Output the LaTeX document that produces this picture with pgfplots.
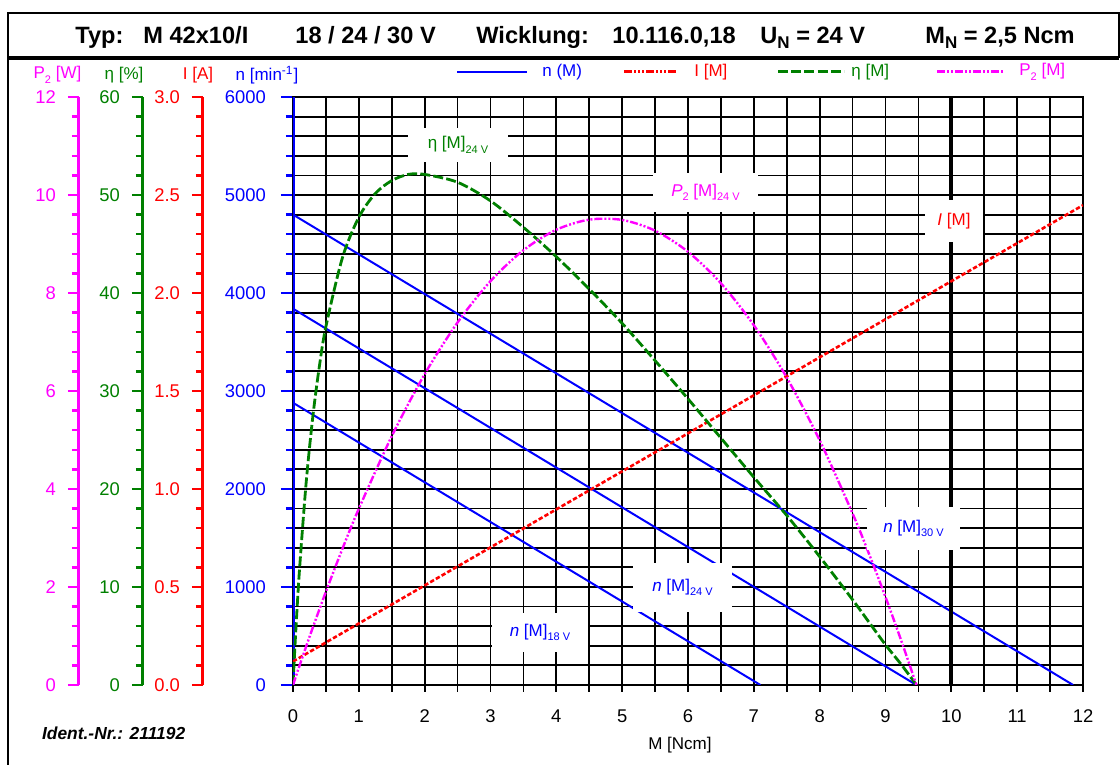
\documentclass[border=0pt]{standalone}
\usepackage{fontspec}
\setmainfont{Liberation Sans}
\usepackage{pgfplots}
\pgfplotsset{compat=1.18}

\definecolor{cblue}{RGB}{0,0,255}
\definecolor{cred}{RGB}{255,0,0}
\definecolor{cgreen}{RGB}{0,128,0}
\definecolor{cmag}{RGB}{255,0,255}

% subscript used in the curve labels
\newcommand{\lsub}[1]{\raisebox{-0.5ex}{\fontsize{5.5}{6}\selectfont #1}}
\newcommand{\labfont}{\fontsize{8.5}{10}\selectfont}
\newcommand{\tickfont}{\fontsize{9.2}{11}\selectfont}

\tikzset{
  ipat/.style={dash pattern=on 4pt off 1pt on 1pt off 1pt on 1pt off 1pt on 1pt off 1pt},
  icurve/.style={dash pattern=on 2.2pt off 1.1pt},
  etapat/.style={dash pattern=on 5pt off 1.6pt},
  ppat/.style={dash pattern=on 4pt off 1pt on 1pt off 1pt on 1pt off 1pt},
}

\pgfplotsset{
  motor base/.style={
    scale only axis, width=395pt, height=294pt, at={(0,0)}, anchor=south west,
    xmin=0, xmax=12,
  },
  data layer/.style={motor base, hide axis},
  scale axis/.style={
    scale only axis, width=2pt, height=294pt, anchor=south west,
    xmin=0, xmax=1, ymin=0,
    axis x line=none, axis y line=left,
    axis line style={-, line width=1.5pt},
    ytick pos=left, tick align=outside, minor y tick num=4,
    major tick length=5.5pt, minor tick length=3.5pt,
    ticklabel style={font=\tickfont},
    /pgf/number format/assume math mode=true,
  },
}

\begin{document}
\begin{tikzpicture}

% ---- speed axis with the grid and the three speed lines ----
\begin{axis}[motor base,
  ymin=0, ymax=6000,
  xtick={0,...,12}, minor x tick num=1,
  ytick={0,1000,...,6000}, minor y tick num=4,
  grid=both,
  major grid style={black, line width=0.9pt},
  minor grid style={black, line width=0.9pt},
  axis line style={black, line width=0.9pt},
  xtick pos=bottom, ytick pos=left, tick align=outside,
  major tick length=6pt, minor tick length=3.5pt,
  every major x tick/.append style={yshift=2.5pt, black, line width=0.9pt},
  every minor x tick/.append style={black, line width=0.9pt},
  every major y tick/.append style={cblue, line width=1.2pt},
  every minor y tick/.append style={cblue, line width=1.2pt},
  yticklabel style={text=cblue, xshift=-4pt},
  xticklabel style={yshift=-3pt},
  ticklabel style={font=\tickfont},
  /pgf/number format/assume math mode=true,
  /pgf/number format/1000 sep={},
]
\addplot[cblue, line width=1pt] coordinates {(0,4800) (11.85,0)};
\addplot[cblue, line width=1pt] coordinates {(0,3840) (9.47,0)};
\addplot[cblue, line width=1pt] coordinates {(0,2880) (7.1,0)};
\draw[black, line width=2pt] (axis cs:10,0) -- (axis cs:10,6000);
\draw[cblue, line width=1.6pt] (axis cs:0,0) -- (axis cs:0,6000);
\end{axis}

% ---- current ----
\begin{axis}[data layer, ymin=0, ymax=3]
\addplot[cred, line width=1.3pt, icurve] coordinates {(0,0.12) (12,2.448)};
\end{axis}

% ---- efficiency ----
\begin{axis}[data layer, ymin=0, ymax=60]
\addplot[cgreen, line width=1.4pt, etapat, smooth] coordinates {
 (0,0) (0.02,2.70) (0.05,6.43) (0.1,11.89) (0.2,20.66) (0.3,27.31)
 (0.4,32.49) (0.5,36.57) (0.75,43.58) (1.0,47.73) (1.25,50.15)
 (1.5,51.47) (1.75,52.10) (2.0,52.10) (2.5,51.3) (3.0,49.4)
 (3.5,46.7) (4.0,43.7) (4.5,40.4) (5.0,36.9) (5.5,33.1) (6.0,29.2)
 (6.5,25.2) (7.0,21.2) (7.5,17.3) (8.0,13.1) (8.5,8.7) (8.75,6.4)
 (9.0,4.1) (9.25,2.0) (9.47,0)};
\end{axis}

% ---- output power ----
\begin{axis}[data layer, ymin=0, ymax=12]
\addplot[cmag, line width=1.2pt, ppat, smooth] coordinates {
 (0,0) (0.05,0.200) (0.1,0.398) (0.2,0.787) (0.3,1.168) (0.5,1.905)
 (0.75,2.777) (1.0,3.597) (1.5,5.077) (2.0,6.344) (2.5,7.399)
 (3.0,8.242) (3.5,8.873) (4.0,9.291) (4.5,9.497) (5.0,9.491)
 (5.5,9.272) (6.0,8.841) (6.5,8.198) (7.0,7.342) (7.5,6.274)
 (8.0,4.994) (8.5,3.501) (8.75,2.675) (9.0,1.796) (9.25,0.864)
 (9.47,0)};
\end{axis}

% ---- left-hand scales ----
\begin{axis}[scale axis, at={(-45pt,0)}, ymax=3,
  ytick={0,0.5,...,3},
  y axis line style={cred}, tick style={cred, line width=1.2pt},
  yticklabel style={text=cred, xshift=-2.5pt, /pgf/number format/.cd, fixed, fixed zerofill, precision=1}]
\end{axis}
\begin{axis}[scale axis, at={(-75pt,0)}, ymax=60,
  ytick={0,10,...,60},
  y axis line style={cgreen}, tick style={cgreen, line width=1.2pt},
  yticklabel style={text=cgreen, xshift=-2.5pt}]
\end{axis}
\begin{axis}[scale axis, at={(-107pt,0)}, ymax=12,
  ytick={0,2,...,12},
  y axis line style={cmag}, tick style={cmag, line width=1.2pt},
  yticklabel style={text=cmag, xshift=-2.5pt}]
\end{axis}

% ---- curve labels ----
\begin{scope}[every node/.style={fill=white, inner sep=0pt, font=\labfont}]
\node[minimum width=50pt, minimum height=17pt, text=cgreen] at (82.5pt,270pt) {η [M]\lsub{24 V}};
\node[minimum width=52.5pt, minimum height=19.5pt, text=cmag] at (206.25pt,246.3pt) {\textit{P}\lsub{2} [M]\lsub{24 V}};
\node[minimum width=29pt, minimum height=21pt, text=cred] at (330.5pt,232pt) {\textit{I} [M]};
\node[minimum width=46.5pt, minimum height=21.5pt, text=cblue] at (310.25pt,78.25pt) {\textit{n} [M]\lsub{30 V}};
\node[minimum width=49.5pt, minimum height=24.5pt, text=cblue] at (194.75pt,48.75pt) {\textit{n} [M]\lsub{24 V}};
\node[minimum width=48pt, minimum height=19.5pt, text=cblue] at (123.5pt,26.25pt) {\textit{n} [M]\lsub{18 V}};
\end{scope}

% ---- legend ----
\draw[cblue, line width=1pt] (82pt,306.5pt) -- (117pt,306.5pt);
\node[anchor=west, inner sep=0pt, text=cblue, font=\labfont] at (124.5pt,306.5pt) {n (M)};
\draw[cred, line width=1.5pt, ipat] (165.5pt,306.5pt) -- (192.5pt,306.5pt);
\node[anchor=west, inner sep=0pt, text=cred, font=\labfont] at (200.5pt,306.5pt) {I [M]};
\draw[cgreen, line width=1.5pt, etapat] (242.5pt,306.5pt) -- (275.5pt,306.5pt);
\node[anchor=west, inner sep=0pt, text=cgreen, font=\labfont] at (279pt,306.5pt) {η [M]};
\draw[cmag, line width=1.5pt, ppat] (322pt,306.5pt) -- (356pt,306.5pt);
\node[anchor=west, inner sep=0pt, text=cmag, font=\labfont] at (363pt,306.5pt) {P\lsub{2} [M]};

% ---- scale titles ----
\node[text=cmag, font=\labfont] at (-117.75pt,305pt) {P\lsub{2} [W]};
\node[text=cgreen, font=\labfont] at (-84.5pt,305pt) {η [\%]};
\node[text=cred, font=\labfont] at (-47.5pt,305pt) {I [A]};
\node[text=cblue, font=\labfont] at (-13pt,305pt) {n [min\textsuperscript{-1}]};

% ---- x label and ident number ----
\node[font=\labfont] at (193.5pt,-30pt) {M [Ncm]};
\node[anchor=west, font=\fontsize{8.7}{10}\selectfont\bfseries\itshape] at (-129pt,-24pt) {Ident.-Nr.: 211192};

% ---- header ----
\draw[line width=1pt] (-142.5pt,-40pt) -- (-142.5pt,336pt) -- (413pt,336pt) -- (413pt,313.5pt);
\draw[line width=2pt] (-142.5pt,313.5pt) -- (413pt,313.5pt);
\begin{scope}[every node/.style={anchor=base west, inner sep=0pt, font=\fontsize{11.8}{14}\selectfont\bfseries}]
\node at (-109pt,320.5pt) {Typ:};
\node at (-75pt,320.5pt) {M 42x10/I};
\node at (1pt,320.5pt) {18 / 24 / 30 V};
\node at (91.5pt,320.5pt) {Wicklung:};
\node at (159.5pt,320.5pt) {10.116.0,18};
\node at (233.5pt,320.5pt) {U\raisebox{-0.4ex}{\fontsize{8.5}{9}\selectfont N} = 24 V};
\node at (316pt,320.5pt) {M\raisebox{-0.4ex}{\fontsize{8.5}{9}\selectfont N} = 2,5 Ncm};
\end{scope}

\pgfresetboundingbox
\path[use as bounding box] (-146.5pt,-40pt) rectangle (413.5pt,342.5pt);
\end{tikzpicture}
\end{document}
